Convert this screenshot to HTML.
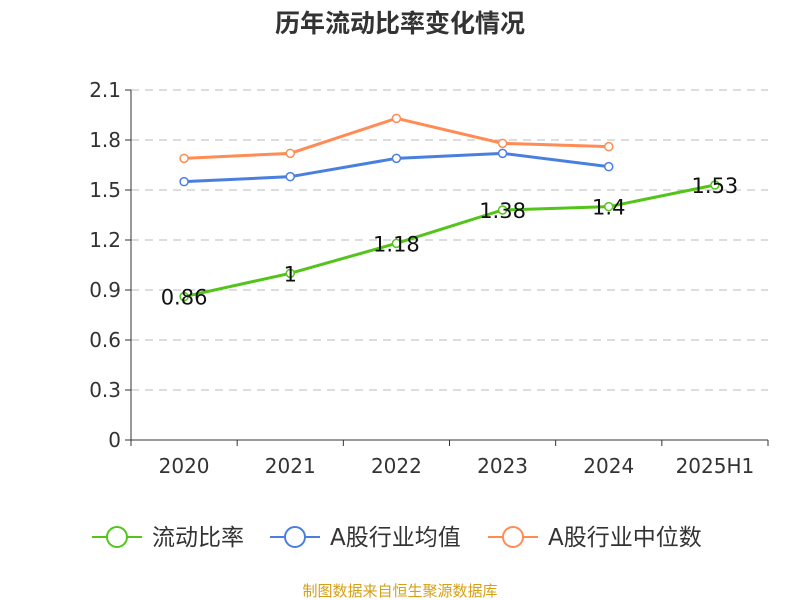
<!DOCTYPE html>
<html><head><meta charset="utf-8">
<style>
body{margin:0;background:#fff;}
svg{display:block;font-family:"DejaVu Sans","Noto Sans CJK SC",sans-serif;}
</style></head>
<body>
<svg id="chart" width="800" height="600">
<text x="400" y="32" text-anchor="middle" font-size="25" font-weight="bold" fill="#333" font-family="'Liberation Sans','Noto Sans CJK SC',sans-serif">历年流动比率变化情况</text>
<g id="grid"></g><g id="axes"></g><g id="series"></g><g id="legend"></g>
<text x="400" y="596" text-anchor="middle" font-size="15" fill="#d4a017" font-family="'Liberation Sans','Noto Sans CJK SC',sans-serif">制图数据来自恒生聚源数据库</text>
</svg>
<script>
const categories=["2020","2021","2022","2023","2024","2025H1"];
const currentRatio=[0.86,1,1.18,1.38,1.4,1.53];
const industryAvg=[1.55,1.58,1.69,1.72,1.64];
const industryMedian=[1.69,1.72,1.93,1.78,1.76];
const yTicks=[0,0.3,0.6,0.9,1.2,1.5,1.8,2.1];
const ns="http://www.w3.org/2000/svg";
const L=131,R=768,T=90,B=440,yMax=2.1;
const bw=(R-L)/categories.length;
const xs=i=>L+bw*(i+0.5);
const ys=v=>B-(v/yMax)*(B-T);
function mk(p,t,a){const e=document.createElementNS(ns,t);for(const k in a)e.setAttribute(k,a[k]);p.appendChild(e);return e;}
const grid=document.getElementById('grid'),axes=document.getElementById('axes'),ser=document.getElementById('series'),leg=document.getElementById('legend');
yTicks.forEach(v=>{
 if(v>0){const g=mk(grid,'line',{x1:L,x2:R,y1:ys(v),y2:ys(v),stroke:'#bbb','stroke-dasharray':'8,6'});
 
 }
 mk(axes,'line',{x1:L-6,x2:L,y1:ys(v),y2:ys(v),stroke:'#333'});
 const t=mk(axes,'text',{x:L-10,y:ys(v)+7,'text-anchor':'end','font-size':20,fill:'#333'});t.textContent=v;
 
 
});
mk(axes,'line',{x1:L,x2:L,y1:T,y2:B,stroke:'#333'});
mk(axes,'line',{x1:L,x2:R,y1:B,y2:B,stroke:'#333'});
for(let i=0;i<=categories.length;i++)mk(axes,'line',{x1:L+bw*i,x2:L+bw*i,y1:B,y2:B+6,stroke:'#333'});
categories.forEach((c,i)=>{const t=mk(axes,'text',{x:xs(i),y:B+33,'text-anchor':'middle','font-size':20,fill:'#333'});t.textContent=c;
 
 });
function line(data,color,name,labels){
 const g=mk(ser,'g',{});
 
 
 mk(g,'polyline',{points:data.map((v,i)=>xs(i)+','+ys(v)).join(' '),fill:'none',stroke:color,'stroke-width':3});
 data.forEach((v,i)=>{const c=mk(g,'circle',{cx:xs(i),cy:ys(v),r:4,fill:'#fff',stroke:color,'stroke-width':1.5});
  
  
  if(labels){const t=mk(g,'text',{x:xs(i),y:ys(v)+8,'text-anchor':'middle','font-size':21,fill:'#111'});t.textContent=v;
  
  }
 });
}
line(industryMedian,'#ff8c55','industry-median-line',false);
line(industryAvg,'#4a7fe0','industry-avg-line',false);
line(currentRatio,'#52c41a','current-ratio-line',true);
[["流动比率","#52c41a",92],["A股行业均值","#4a7fe0",270],["A股行业中位数","#ff8c55",488]].forEach(([n,c,x])=>{
 const g=mk(leg,'g',{});
 
 
 mk(g,'line',{x1:x,x2:x+50,y1:537,y2:537,stroke:c,'stroke-width':2});
 mk(g,'circle',{cx:x+25,cy:537,r:10,fill:'#fff',stroke:c,'stroke-width':2});
 const t=mk(g,'text',{x:x+60,y:545,'font-size':23,fill:'#333'});t.textContent=n;
});
</script>
</body></html>
